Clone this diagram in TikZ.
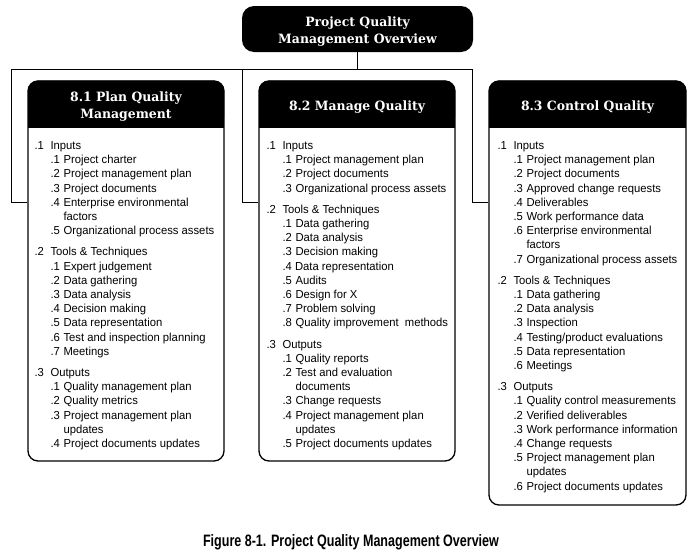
\documentclass[tikz,border=0pt]{standalone}
\usepackage{fontspec}
\usepackage{array}
\setmainfont{Liberation Sans}[FakeStretch=0.97]
\newfontfamily\headfont{DejaVu Serif}[FakeStretch=0.97]
\newfontfamily\capfont{Liberation Sans}[FakeStretch=0.76]
\usetikzlibrary{shapes,arrows,positioning,calc,backgrounds}

% list lines inside the process boxes
\newcommand{\qgrp}[2]{#1 & \multicolumn{2}{@{}l@{}}{#2}\\}
\newcommand{\qitem}[2]{ & #1 & #2\\}
\newcommand{\qmore}[1]{ & & #1\\}
\newcommand{\qgap}{\noalign{\vskip7pt}}
\newcommand{\hstrut}{\rule{0pt}{15pt}}
\newenvironment{qlist}{\begin{tabular}{@{}p{16pt}@{}p{13pt}@{}l@{}}}{\end{tabular}}

\begin{document}
\begin{tikzpicture}[x=1pt,y=-1pt,
  box/.style={draw, line width=1.3pt, rounded corners=10pt, minimum width=196pt, inner sep=0pt},
  head/.style={fill=black, text=white, rounded corners=10pt, minimum width=196pt, minimum height=47pt,
    align=center, inner sep=0pt, font=\headfont\bfseries\fontsize{12.8}{17}\selectfont},
  list/.style={inner sep=0pt, font=\fontsize{11.6}{14.2}\selectfont},
  link/.style={line width=1pt}]
\useasboundingbox (0,0) rectangle (698,557);

% overview box
\node[head, minimum width=231pt, minimum height=46pt, rounded corners=12pt] (top) at (357.5,29)
  {\hstrut Project Quality\\Management Overview};

% process boxes
\node[box, minimum height=380pt] (plan) at (126,271) {};
\node[box, minimum height=380pt] (manage) at (357,271) {};
\node[box, minimum width=197pt, minimum height=424pt] (control) at (587.5,293) {};

\node[head, anchor=north] (planhead) at (plan.north) {\hstrut 8.1 Plan Quality\\Management};
\node[head, anchor=north] (managehead) at (manage.north) {\hstrut 8.2 Manage Quality};
\node[head, anchor=north, minimum width=197pt] (controlhead) at (control.north) {\hstrut 8.3 Control Quality};
\begin{pgfonlayer}{background}
\foreach \h in {planhead,managehead,controlhead}
  \fill (\h.west) rectangle (\h.south east);   % square lower corners
\end{pgfonlayer}

% connectors
\coordinate (bus) at (0,69);
\coordinate (j1) at (11,202);
\coordinate (j2) at (242,202);
\coordinate (j3) at (472,202);
\draw[link] (top.south) |- (j1 |- bus) -- (j1) -- (j1 -| plan.west);
\draw[link] (top.south) |- (j2 |- bus) -- (j2) -- (j2 -| manage.west);
\draw[link] (top.south) |- (j3 |- bus) -- (j3) -- (j3 -| control.west);

% contents
\node[list, below right=59pt and 7pt of plan.north west] (plantext) {\begin{qlist}
\qgrp{.1}{Inputs}
\qitem{.1}{Project charter}
\qitem{.2}{Project management plan}
\qitem{.3}{Project documents}
\qitem{.4}{Enterprise environmental}
\qmore{factors}
\qitem{.5}{Organizational process assets}
\qgap
\qgrp{.2}{Tools \& Techniques}
\qitem{.1}{Expert judgement}
\qitem{.2}{Data gathering}
\qitem{.3}{Data analysis}
\qitem{.4}{Decision making}
\qitem{.5}{Data representation}
\qitem{.6}{Test and inspection planning}
\qitem{.7}{Meetings}
\qgap
\qgrp{.3}{Outputs}
\qitem{.1}{Quality management plan}
\qitem{.2}{Quality metrics}
\qitem{.3}{Project management plan}
\qmore{updates}
\qitem{.4}{Project documents updates}
\end{qlist}};

\node[list, below right=59pt and 8pt of manage.north west] (managetext) {\begin{qlist}
\qgrp{.1}{Inputs}
\qitem{.1}{Project management plan}
\qitem{.2}{Project documents}
\qitem{.3}{Organizational process assets}
\qgap
\qgrp{.2}{Tools \& Techniques}
\qitem{.1}{Data gathering}
\qitem{.2}{Data analysis}
\qitem{.3}{Decision making}
 & \multicolumn{2}{@{}l@{}}{.4 Data representation}\\
\qitem{.5}{Audits}
\qitem{.6}{Design for X}
\qitem{.7}{Problem solving}
\qitem{.8}{Quality improvement\ \ methods}
\qgap
\qgrp{.3}{Outputs}
\qitem{.1}{Quality reports}
\qitem{.2}{Test and evaluation}
\qmore{documents}
\qitem{.3}{Change requests}
\qitem{.4}{Project management plan}
\qmore{updates}
\qitem{.5}{Project documents updates}
\end{qlist}};

\node[list, below right=59pt and 9pt of control.north west] (controltext) {\begin{qlist}
\qgrp{.1}{Inputs}
\qitem{.1}{Project management plan}
\qitem{.2}{Project documents}
\qitem{.3}{Approved change requests}
\qitem{.4}{Deliverables}
\qitem{.5}{Work performance data}
\qitem{.6}{Enterprise environmental}
\qmore{factors}
\qitem{.7}{Organizational process assets}
\qgap
\qgrp{.2}{Tools \& Techniques}
\qitem{.1}{Data gathering}
\qitem{.2}{Data analysis}
\qitem{.3}{Inspection}
\qitem{.4}{Testing/product evaluations}
\qitem{.5}{Data representation}
\qitem{.6}{Meetings}
\qgap
\qgrp{.3}{Outputs}
\qitem{.1}{Quality control measurements}
\qitem{.2}{Verified deliverables}
\qitem{.3}{Work performance information}
\qitem{.4}{Change requests}
\qitem{.5}{Project management plan}
\qmore{updates}
\qitem{.6}{Project documents updates}
\end{qlist}};

% caption
\node[font=\capfont\bfseries\fontsize{16.5}{19}\selectfont] (caption) at (351,542)
  {Figure 8-1. Project Quality Management Overview};
\end{tikzpicture}
\end{document}
